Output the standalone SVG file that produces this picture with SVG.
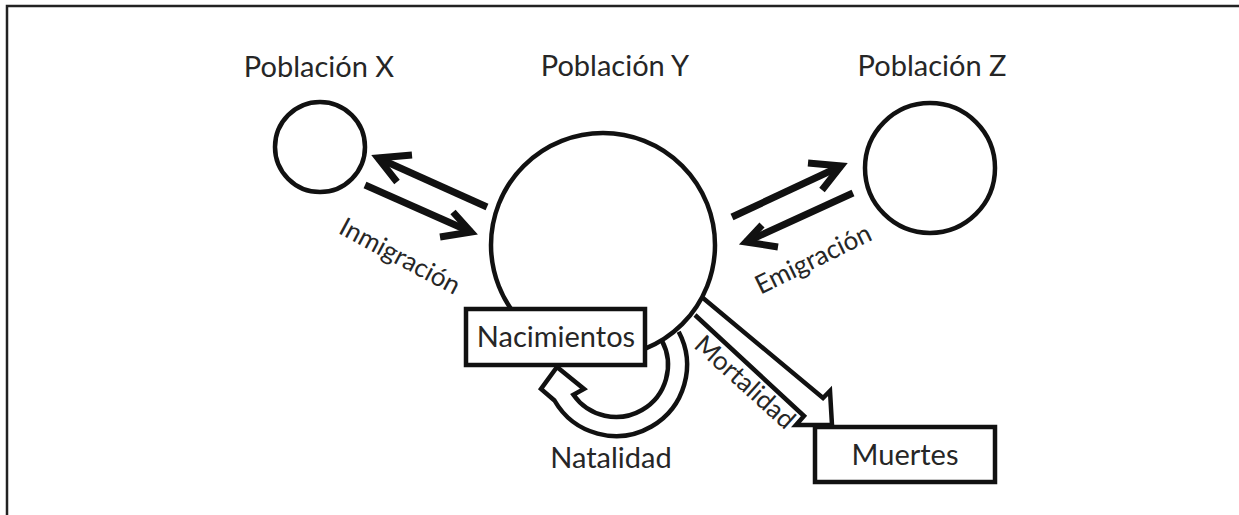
<svg xmlns="http://www.w3.org/2000/svg" width="1239" height="515" viewBox="0 0 1239 515">
<style>
  .lbl { font-family: Lato, "Open Sans", "Liberation Sans", sans-serif; font-size: 29px; fill: #262626; text-anchor: middle; }
  .rot { font-size: 26px; }
  .ln { fill: none; stroke: #111; stroke-width: 4.5; }
  .arr { fill: none; stroke: #111; stroke-width: 7; stroke-linejoin: miter; stroke-linecap: butt; }
  .box { fill: #fff; stroke: #111; stroke-width: 4.5; }
  .hollow { fill: #fff; stroke: #111; stroke-width: 4.5; stroke-linejoin: miter; }
</style>
<rect x="0" y="0" width="1239" height="515" fill="#fff"/>
<g id="frame">
  <path d="M7 515 V6 H1239" fill="none" stroke="#222" stroke-width="2.5"/>
</g>

<g id="title-x"><text class="lbl" x="319" y="77">Población X</text></g>
<g id="title-y"><text class="lbl" x="615" y="76">Población Y</text></g>
<g id="title-z"><text class="lbl" x="932" y="76">Población Z</text></g>

<g id="connectors">
  <!-- X <-> Y -->
  <path class="arr" d="M487 207 L378 158"/>
  <path class="arr" d="M412 155 L378 158 L397 182"/>
  <path class="arr" d="M365 185 L471 232"/>
  <path class="arr" d="M453 212 L471 232 L440 237"/>
  <!-- Y <-> Z -->
  <path class="arr" d="M732 217 L841 166"/>
  <path class="arr" d="M808 163 L841 166 L822 190"/>
  <path class="arr" d="M853 193 L746 242"/>
  <path class="arr" d="M762 225 L746 242 L778 247"/>
  <!-- Natalidad curved hollow arrow -->
  <path id="natalidad-arrow" class="hollow" d="M678.7 331.7 A71 71 0 0 1 651.5 426.5 A71 71 0 0 1 554.5 400.5 L541 389 L557 367 L584 389 L573.4 394.8 A52 52 0 0 0 642 410 A52 52 0 0 0 661.9 340.6"/>
</g>

<g id="label-inmigracion"><text class="lbl rot" transform="translate(400 256) rotate(28)" x="0" y="9">Inmigración</text></g>
<g id="label-emigracion"><text class="lbl rot" transform="translate(813 259) rotate(-26)" x="0" y="9">Emigración</text></g>

<g id="poblacion-x"><circle class="ln" cx="320" cy="147" r="45"/></g>
<g id="poblacion-y"><circle class="ln" cx="603" cy="245" r="112"/></g>
<g id="poblacion-z"><circle class="ln" cx="930" cy="168" r="65"/></g>

<g id="nacimientos">
  <rect class="box" x="466" y="309" width="179" height="56"/>
  <text class="lbl" x="556" y="347">Nacimientos</text>
</g>

<g id="mortalidad-arrow">
  <path class="ln" d="M703 298 L823 398 L830 391 L832 425 L796 425 L804 416 L695 315" stroke-linejoin="miter"/>
</g>
<g id="label-mortalidad"><text class="lbl rot" transform="translate(745 382) rotate(42)" x="0" y="9">Mortalidad</text></g>

<g id="muertes">
  <rect class="box" x="815" y="427" width="180" height="55"/>
  <text class="lbl" x="905" y="465">Muertes</text>
</g>

<g id="label-natalidad"><text class="lbl" x="611" y="468">Natalidad</text></g>
</svg>
